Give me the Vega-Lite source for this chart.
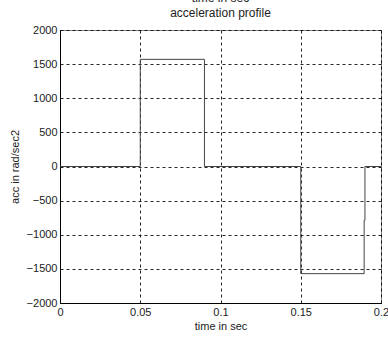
{
  "$schema": "https://vega.github.io/schema/vega-lite/v6.json",
  "autosize": "none",
  "width": 321,
  "height": 273,
  "padding": {"left": 60, "top": 30, "right": 7, "bottom": 37},
  "background": "white",
  "title": {
    "text": ["time in sec", "acceleration profile"],
    "anchor": "middle",
    "frame": "group",
    "offset": 4,
    "lineHeight": 15,
    "font": "Liberation Sans",
    "fontSize": 12,
    "fontWeight": "normal",
    "color": "#222"
  },
  "config": {
    "view": {"stroke": "#888", "strokeWidth": 1},
    "axis": {
      "labelFont": "Liberation Sans",
      "labelFontSize": 11,
      "labelColor": "#222",
      "titleFont": "Liberation Sans",
      "titleFontSize": 11,
      "titleFontWeight": "normal",
      "titleColor": "#222",
      "domainColor": "#000",
      "gridColor": "#000",
      "gridDash": [3, 3],
      "gridOpacity": 0.85,
      "ticks": false
    }
  },
  "data": {
    "values": [
      {"i": 0, "t": 0, "acc": 0},
      {"i": 1, "t": 0.05, "acc": 0},
      {"i": 2, "t": 0.05, "acc": 1570},
      {"i": 3, "t": 0.09, "acc": 1570},
      {"i": 4, "t": 0.09, "acc": 0},
      {"i": 5, "t": 0.15, "acc": 0},
      {"i": 6, "t": 0.15, "acc": -1570},
      {"i": 7, "t": 0.1895, "acc": -1570},
      {"i": 8, "t": 0.1895, "acc": -790},
      {"i": 9, "t": 0.19, "acc": -790},
      {"i": 10, "t": 0.19, "acc": 0},
      {"i": 11, "t": 0.2, "acc": 0}
    ]
  },
  "mark": {"type": "line", "color": "#444", "strokeWidth": 1, "interpolate": "linear"},
  "encoding": {
    "x": {
      "field": "t",
      "type": "quantitative",
      "scale": {"domain": [0, 0.2], "nice": false, "zero": false},
      "axis": {
        "values": [0, 0.05, 0.1, 0.15, 0.2],
        "format": "~g",
        "title": "time in sec",
        "labelPadding": 3,
        "titlePadding": 3,
        "labelFlush": false
      }
    },
    "y": {
      "field": "acc",
      "type": "quantitative",
      "scale": {"domain": [-2000, 2000], "nice": false},
      "axis": {
        "values": [-2000, -1500, -1000, -500, 0, 500, 1000, 1500, 2000],
        "format": "d",
        "title": "acc in rad/sec2",
        "labelPadding": 3,
        "titlePadding": 6
      }
    },
    "order": {"field": "i", "type": "quantitative"}
  }
}
